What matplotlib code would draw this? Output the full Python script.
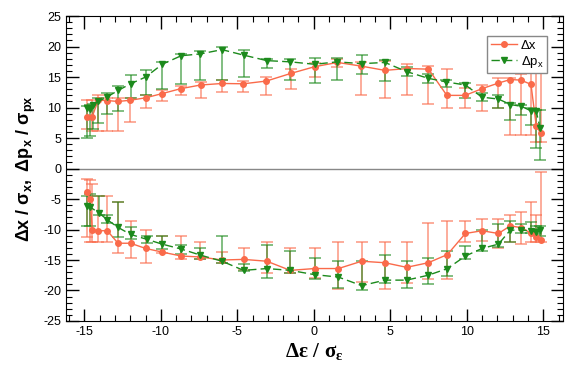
import numpy as np
import matplotlib
matplotlib.use("Agg")
import matplotlib.pyplot as plt
from matplotlib.ticker import MultipleLocator

plt.rcParams["font.family"] = "Liberation Sans"
plt.rcParams["axes.unicode_minus"] = False
plt.rcParams["mathtext.fontset"] = "custom"
plt.rcParams["mathtext.rm"] = "Liberation Serif:bold"
plt.rcParams["mathtext.sf"] = "Liberation Sans:bold"
plt.rcParams["mathtext.it"] = "Liberation Sans:italic"
plt.rcParams["mathtext.bf"] = "Liberation Sans:bold"

ORANGE = "#fa6a4a"
GREEN = "#1c8a1c"

# upper branch, Δx
ux_x = [-14.8, -14.5, -14.1, -13.5, -12.8, -12.0, -11.0, -9.9, -8.7, -7.4, -6.0, -4.6, -3.1, -1.5,
        0.05, 1.55, 3.1, 4.65, 6.1, 7.5, 8.7, 9.9, 11.0, 12.05, 12.85, 13.55, 14.2, 14.55, 14.85]
ux_y = [8.4, 8.4, 11.2, 11.15, 11.0, 11.2, 11.6, 12.3, 13.1, 13.7, 13.95, 13.9, 14.35, 15.6,
        16.7, 17.4, 16.8, 16.1, 16.4, 16.3, 12.0, 12.0, 13.1, 14.0, 14.6, 14.5, 13.8, 6.9, 5.8]
ux_lo = [6.5, 6.1, 6.1, 6.1, 6.1, 7.6, 9.9, 11.0, 12.0, 11.6, 12.5, 12.5, 12.0, 13.1,
         15.0, 16.6, 12.0, 11.6, 12.0, 10.6, 10.0, 9.9, 9.5, 9.9, 5.5, 5.5, 5.5, 4.4, 4.4]
ux_hi = [11.3, 11.3, 12.0, 11.6, 11.6, 11.6, 12.0, 12.8, 13.6, 14.2, 14.5, 14.3, 15.0, 16.3,
         17.3, 18.0, 17.4, 17.7, 17.2, 16.8, 16.3, 13.2, 13.7, 14.9, 14.9, 15.5, 15.6, 15.6, 15.6]

# upper branch, Δpx
up_x = [-14.8, -14.63, -14.43, -14.1, -13.54, -12.8, -11.98, -11.0, -9.91, -8.67, -7.41, -6.0, -4.59,
        -3.07, -1.54, 0.05, 1.54, 3.13, 4.65, 6.07, 7.48, 8.67, 9.91, 11.0, 12.07, 12.85, 13.57,
        14.17, 14.54, 14.8]
up_y = [9.9, 9.7, 10.5, 11.0, 11.7, 12.8, 13.9, 15.0, 17.1, 18.5, 18.8, 19.5, 18.6,
        17.7, 17.5, 17.1, 17.5, 17.2, 17.4, 15.9, 14.8, 14.2, 13.7, 11.7, 11.4, 10.5, 10.2,
        9.5, 9.4, 6.6]
up_lo = [5.0, 5.3, 6.5, 7.5, 8.9, 9.5, 11.6, 12.0, 13.1, 13.9, 14.5, 14.5, 15.0,
         16.5, 14.5, 14.0, 14.5, 15.5, 14.3, 15.2, 14.1, 13.4, 11.6, 11.0, 9.9, 8.0, 8.8,
         7.1, 3.4, 1.4]
up_hi = [10.2, 10.5, 10.6, 11.6, 12.4, 13.5, 15.3, 16.2, 17.5, 18.8, 19.2, 20.0, 19.4,
         18.0, 17.9, 18.2, 18.2, 18.7, 17.8, 16.6, 15.5, 14.6, 14.1, 12.4, 12.0, 10.8, 10.5,
         9.9, 9.6, 9.6]

# lower branch, Δx
lx_x = [-14.8, -14.63, -14.48, -14.1, -13.5, -12.8, -11.98, -11.0, -9.91, -8.67, -7.41, -6.0, -4.59,
        -3.07, -1.54, 0.05, 1.61, 3.13, 4.65, 6.07, 7.48, 8.74, 9.91, 11.0, 12.07, 12.85, 13.57,
        14.2, 14.54, 14.87]
lx_y = [-3.9, -5.0, -10.0, -10.2, -10.2, -12.25, -12.25, -13.1, -13.7, -14.35, -14.5, -15.0, -14.9,
        -15.2, -16.7, -16.4, -16.4, -15.2, -15.45, -16.2, -15.45, -14.1, -10.65, -10.2, -10.65, -9.4, -9.7,
        -10.6, -11.2, -11.7]
lx_lo = [-11.3, -12.0, -12.1, -12.1, -12.1, -13.8, -14.6, -15.5, -13.9, -14.8, -14.9, -15.5, -16.6,
         -17.2, -17.2, -17.9, -19.8, -18.65, -19.8, -18.8, -18.1, -18.1, -12.1, -11.9, -13.0, -12.1, -12.4,
         -12.0, -12.0, -12.0]
lx_hi = [-1.65, -1.8, -2.5, -4.5, -4.5, -5.5, -8.55, -10.1, -11.1, -11.1, -12.0, -13.7, -13.1,
         -12.0, -13.0, -13.1, -12.1, -12.1, -12.0, -12.0, -9.0, -8.55, -8.55, -8.2, -8.2, -7.6, -7.1,
         -5.5, -7.6, -0.55]

# lower branch, Δpx
lp_x = [-14.8, -14.6, -14.04, -13.5, -12.8, -11.98, -10.93, -9.91, -8.67, -7.41, -6.0, -4.59, -3.07,
        -1.54, 0.05, 1.61, 3.13, 4.65, 6.07, 7.48, 8.74, 9.91, 11.0, 12.07, 12.85, 13.57, 14.2,
        14.54, 14.8]
lp_y = [-6.2, -6.35, -7.3, -8.4, -9.65, -10.8, -11.6, -12.4, -13.2, -14.2, -15.2, -16.7, -16.4,
        -16.7, -17.4, -17.8, -19.2, -18.3, -18.3, -17.5, -16.4, -14.35, -13.1, -12.4, -10.1, -10.1, -10.2,
        -10.4, -10.1]
lp_lo = [-9.5, -9.4, -7.7, -9.0, -11.3, -11.6, -12.25, -13.2, -14.0, -14.8, -15.5, -16.8, -17.9,
         -17.2, -18.1, -19.6, -20.0, -18.8, -19.6, -18.9, -17.7, -14.9, -13.5, -12.8, -12.1, -10.5, -10.6,
         -10.8, -11.0]
lp_hi = [-4.5, -4.1, -4.5, -7.6, -5.5, -9.65, -11.1, -11.1, -12.6, -13.0, -11.1, -15.6, -12.6,
         -13.5, -14.6, -15.2, -15.2, -14.1, -15.2, -14.6, -13.5, -12.7, -10.1, -9.1, -8.55, -9.1, -8.7,
         -9.4, -9.5]


def draw(ax, x, y, lo, hi, color, marker, ls, label=None):
    y = np.array(y)
    err = [y - np.array(lo), np.array(hi) - y]
    ax.errorbar(x, y, yerr=err, fmt="none", ecolor=color, alpha=0.7,
                elinewidth=1.1, capsize=4.5, capthick=1.1, zorder=2)
    ax.plot(x, y, color=color, ls=ls, lw=1.0, marker=marker, ms=4,
            label=label, zorder=3, dashes=(6, 3) if ls == "--" else (None, None))


fig = plt.figure(figsize=(5.74, 3.66), dpi=100)
ax = fig.add_axes([0.115, 0.123, 0.866, 0.833])

ax.axhline(0, color="#888888", lw=1.0, zorder=1)

draw(ax, ux_x, ux_y, ux_lo, ux_hi, ORANGE, "o", "-", "Δx")
draw(ax, up_x, up_y, up_lo, up_hi, GREEN, "v", "--", r"Δp$_\mathregular{x}$")
draw(ax, lx_x, lx_y, lx_lo, lx_hi, ORANGE, "o", "-")
draw(ax, lp_x, lp_y, lp_lo, lp_hi, GREEN, "v", "--")

ax.set_xlim(-16.2, 16.3)
ax.set_ylim(-25, 25)
ax.xaxis.set_major_locator(MultipleLocator(5))
ax.xaxis.set_minor_locator(MultipleLocator(1))
ax.yaxis.set_major_locator(MultipleLocator(5))
ax.yaxis.set_minor_locator(MultipleLocator(1))
ax.tick_params(which="both", direction="in", top=True, right=True)
ax.tick_params(which="major", length=9, width=1.0, labelsize=9)
ax.tick_params(which="minor", length=4, width=0.8)

ax.set_xlabel(r"$\mathrm{Δε\ /\ σ_ε}$", fontsize=15, labelpad=2)
ax.set_ylabel(r"$\mathsf{Δx\ /\ σ_x,\ Δp_x\ /\ σ_{px}}$", fontsize=13, labelpad=4)

leg = ax.legend(loc="upper right", bbox_to_anchor=(0.968, 0.934), borderaxespad=0,
                fancybox=False, edgecolor="#888888", framealpha=1, fontsize=9.5,
                handlelength=2.0, borderpad=0.25, labelspacing=0.15, handletextpad=0.3)

fig.savefig("out.png", dpi=100)
